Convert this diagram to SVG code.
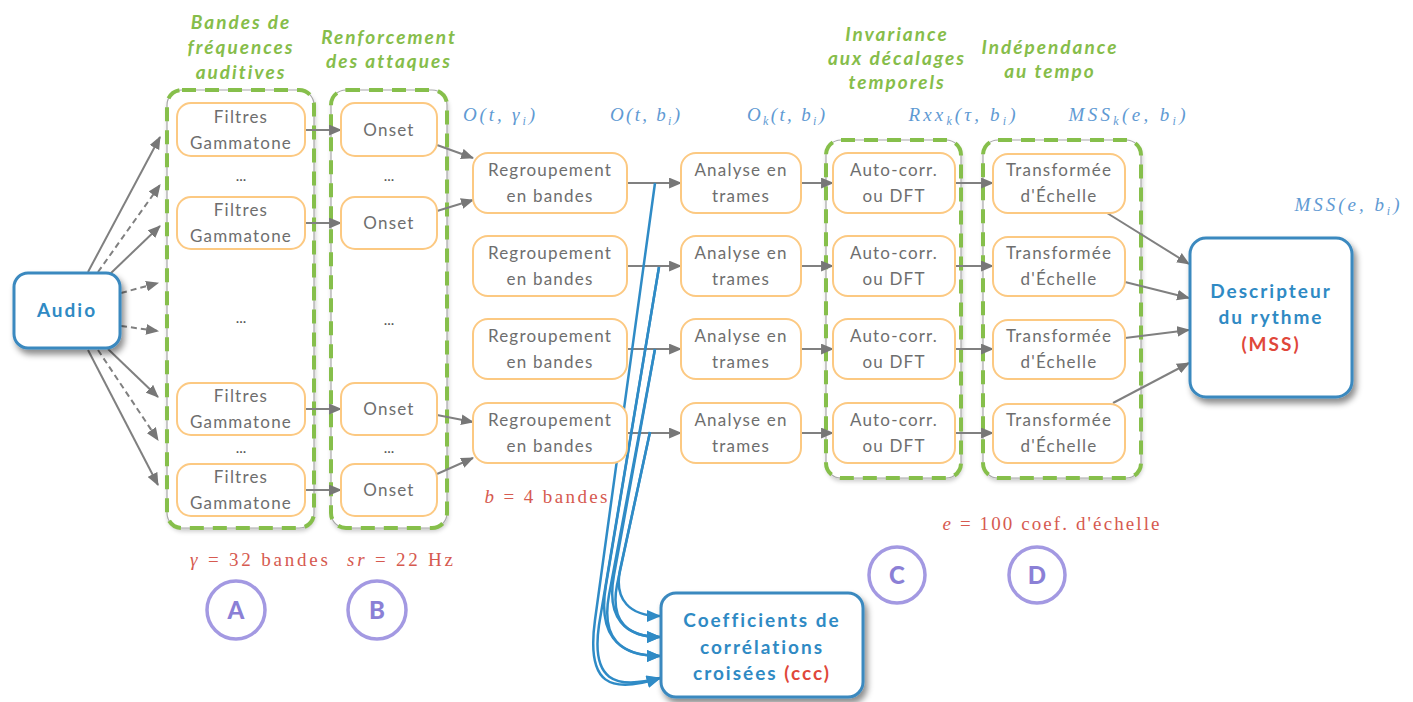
<svg xmlns="http://www.w3.org/2000/svg" width="1413" height="702" viewBox="0 0 1413 702">
<defs>
<style>
.box{fill:#fff;stroke:#fcc982;stroke-width:2}
.lbl{font-family:Lato,"Open Sans",sans-serif;font-size:17px;fill:#6e6e6e;text-anchor:middle;letter-spacing:1.2px}
.dots{font-family:Lato,sans-serif;font-size:15px;fill:#555;text-anchor:middle}
.gbg{fill:#fff;stroke:#a8a8a8;stroke-width:1.2;filter:url(#gs)}
.grp{fill:none;stroke:#86bf4b;stroke-width:4;stroke-dasharray:14 9}
.title{font-family:Lato,"Open Sans",sans-serif;font-weight:bold;font-style:italic;font-size:19px;fill:#86bd4a;text-anchor:middle;letter-spacing:2px}
.conn{stroke:#808080;stroke-width:2;fill:none;marker-end:url(#ag)}
.dash{stroke-dasharray:6 4}
.blue{stroke:#2f8bc6;stroke-width:2.5;fill:none;marker-end:url(#ab)}
.main{fill:#fff;stroke:#3b89bf;stroke-width:3;filter:url(#sh)}
.mtxt{font-family:Lato,"Open Sans",sans-serif;font-weight:bold;font-size:19px;fill:#2f8ac4;text-anchor:middle;letter-spacing:2px}
.redb{fill:#e0473a}
.math{font-family:"Liberation Serif",serif;font-style:italic;font-size:19px;fill:#5f9ad3;text-anchor:middle}
.red{font-family:"Liberation Serif",serif;font-size:19px;fill:#d65a50;text-anchor:middle}
.circ{fill:#fff;stroke:#a399e2;stroke-width:3.5}
.ctxt{font-family:Lato,"Open Sans",sans-serif;font-weight:900;font-size:24px;fill:#8b80d6;text-anchor:middle}
</style>
<filter id="sh" x="-20%" y="-20%" width="150%" height="150%">
<feDropShadow dx="3" dy="5" stdDeviation="3" flood-color="#000" flood-opacity="0.45"/>
</filter>
<filter id="gs" x="-10%" y="-10%" width="120%" height="120%">
<feDropShadow dx="1" dy="3" stdDeviation="2" flood-color="#000" flood-opacity="0.2"/>
</filter>
<marker id="ag" viewBox="0 0 12 10" refX="11" refY="5" markerWidth="13" markerHeight="11" markerUnits="userSpaceOnUse" orient="auto">
<path d="M0,0 L12,5 L0,10 z" fill="#777"/>
</marker>
<marker id="ab" viewBox="0 0 12 10" refX="11" refY="5" markerWidth="15" markerHeight="12" markerUnits="userSpaceOnUse" orient="auto">
<path d="M0,0 L12,5 L0,10 z" fill="#2f8bc6"/>
</marker>
</defs>
<rect width="1413" height="702" fill="#fff"/>

<!-- group frames -->
<g id="groupA"><rect class="gbg" x="167" y="90" width="147" height="438" rx="15"/><rect class="grp" x="167" y="90" width="147" height="438" rx="15"/></g>
<g id="groupB"><rect class="gbg" x="331" y="90" width="116" height="438" rx="15"/><rect class="grp" x="331" y="90" width="116" height="438" rx="15"/></g>
<g id="groupC"><rect class="gbg" x="826" y="140" width="135" height="338" rx="15"/><rect class="grp" x="826" y="140" width="135" height="338" rx="15"/></g>
<g id="groupD"><rect class="gbg" x="983" y="140" width="158" height="338" rx="15"/><rect class="grp" x="983" y="140" width="158" height="338" rx="15"/></g>

<!-- titles -->
<g id="titles">
<text class="title" x="241" y="29">Bandes de</text>
<text class="title" x="241" y="54">fréquences</text>
<text class="title" x="241" y="79">auditives</text>
<text class="title" x="389" y="44">Renforcement</text>
<text class="title" x="389" y="68">des attaques</text>
<text class="title" x="897" y="41">Invariance</text>
<text class="title" x="897" y="65">aux décalages</text>
<text class="title" x="897" y="89">temporels</text>
<text class="title" x="1050" y="54">Indépendance</text>
<text class="title" x="1050" y="78">au tempo</text>
</g>

<!-- connectors -->
<g id="connectors">
<path class="conn" d="M88,272 L160,137"/>
<path class="conn dash" d="M98,272 L160,185"/>
<path class="conn" d="M110,274 L160,226"/>
<path class="conn dash" d="M121,293 L158,283"/>
<path class="conn dash" d="M121,326 L158,331"/>
<path class="conn" d="M108,349 L158,397"/>
<path class="conn dash" d="M98,350 L158,440"/>
<path class="conn" d="M88,350 L158,485"/>

<path class="conn" d="M305,130 L341,130"/>
<path class="conn" d="M305,223 L341,223"/>
<path class="conn" d="M305,409 L341,409"/>
<path class="conn" d="M305,490 L341,490"/>

<path class="conn" d="M437,145 L473,158"/>
<path class="conn" d="M437,211 L473,200"/>
<path class="conn" d="M437,415 L473,422"/>
<path class="conn" d="M437,474 L473,458"/>

<path class="conn" d="M627,183 L681,183"/>
<path class="conn" d="M627,266 L681,266"/>
<path class="conn" d="M627,349 L681,349"/>
<path class="conn" d="M627,433 L681,433"/>

<path class="conn" d="M801,183 L833,183"/>
<path class="conn" d="M801,266 L833,266"/>
<path class="conn" d="M801,349 L833,349"/>
<path class="conn" d="M801,433 L833,433"/>

<path class="conn" d="M955,183 L993,183"/>
<path class="conn" d="M955,266 L993,266"/>
<path class="conn" d="M955,349 L993,349"/>
<path class="conn" d="M955,433 L993,433"/>

<path class="conn" d="M1107,213 L1189,264"/>
<path class="conn" d="M1125,282 L1189,298"/>
<path class="conn" d="M1125,338 L1189,330"/>
<path class="conn" d="M1113,403 L1189,363"/>

<path class="blue" d="M650,432 L620,570 C614,600 630,616 660,616"/>
<path class="blue" d="M655,349 L614,575 C606,618 625,637 660,637"/>
<path class="blue" d="M650,432 L617,585 C610,622 628,637 660,637"/>
<path class="blue" d="M659,267 L606,585 C598,632 615,656 660,656"/>
<path class="blue" d="M655,349 L609,595 C601,638 620,656 660,656"/>
<path class="blue" d="M655,183 L595,620 C586,685 610,694 660,678"/>
<path class="blue" d="M659,267 L599,625 C591,680 614,690 660,678"/>
</g>

<!-- Audio -->
<g id="audio"><rect class="main" x="14" y="273" width="106" height="75" rx="14"/><text class="mtxt" x="67" y="317">Audio</text></g>

<!-- Filtres -->
<g id="filtres1"><rect class="box" x="177" y="103" width="128" height="53" rx="14"/><text class="lbl" x="241" y="123">Filtres</text><text class="lbl" x="241" y="149">Gammatone</text></g>
<g id="filtres2"><rect class="box" x="177" y="197" width="128" height="52" rx="14"/><text class="lbl" x="241" y="216">Filtres</text><text class="lbl" x="241" y="242">Gammatone</text></g>
<g id="filtres3"><rect class="box" x="177" y="383" width="128" height="52" rx="14"/><text class="lbl" x="241" y="402">Filtres</text><text class="lbl" x="241" y="428">Gammatone</text></g>
<g id="filtres4"><rect class="box" x="177" y="464" width="128" height="52" rx="14"/><text class="lbl" x="241" y="483">Filtres</text><text class="lbl" x="241" y="509">Gammatone</text></g>

<!-- Onset -->
<g id="onset1"><rect class="box" x="341" y="103" width="96" height="53" rx="14"/><text class="lbl" x="389" y="136">Onset</text></g>
<g id="onset2"><rect class="box" x="341" y="197" width="96" height="52" rx="14"/><text class="lbl" x="389" y="229">Onset</text></g>
<g id="onset3"><rect class="box" x="341" y="383" width="96" height="52" rx="14"/><text class="lbl" x="389" y="415">Onset</text></g>
<g id="onset4"><rect class="box" x="341" y="464" width="96" height="52" rx="14"/><text class="lbl" x="389" y="496">Onset</text></g>

<g id="dots">
<text class="dots" x="241" y="181">...</text><text class="dots" x="389" y="181">...</text>
<text class="dots" x="241" y="323">...</text><text class="dots" x="389" y="325">...</text>
<text class="dots" x="241" y="453">...</text><text class="dots" x="389" y="453">...</text>
</g>

<!-- Regroupement -->
<g id="regr1"><rect class="box" x="473" y="153" width="154" height="60" rx="15"/><text class="lbl" x="550" y="176">Regroupement</text><text class="lbl" x="550" y="202">en bandes</text></g>
<g id="regr2"><rect class="box" x="473" y="236" width="154" height="60" rx="15"/><text class="lbl" x="550" y="259">Regroupement</text><text class="lbl" x="550" y="285">en bandes</text></g>
<g id="regr3"><rect class="box" x="473" y="319" width="154" height="60" rx="15"/><text class="lbl" x="550" y="342">Regroupement</text><text class="lbl" x="550" y="368">en bandes</text></g>
<g id="regr4"><rect class="box" x="473" y="403" width="154" height="60" rx="15"/><text class="lbl" x="550" y="426">Regroupement</text><text class="lbl" x="550" y="452">en bandes</text></g>

<!-- Analyse -->
<g id="analyse1"><rect class="box" x="681" y="153" width="120" height="60" rx="15"/><text class="lbl" x="741" y="176">Analyse en</text><text class="lbl" x="741" y="202">trames</text></g>
<g id="analyse2"><rect class="box" x="681" y="236" width="120" height="60" rx="15"/><text class="lbl" x="741" y="259">Analyse en</text><text class="lbl" x="741" y="285">trames</text></g>
<g id="analyse3"><rect class="box" x="681" y="319" width="120" height="60" rx="15"/><text class="lbl" x="741" y="342">Analyse en</text><text class="lbl" x="741" y="368">trames</text></g>
<g id="analyse4"><rect class="box" x="681" y="403" width="120" height="60" rx="15"/><text class="lbl" x="741" y="426">Analyse en</text><text class="lbl" x="741" y="452">trames</text></g>

<!-- Auto-corr -->
<g id="auto1"><rect class="box" x="833" y="153" width="122" height="60" rx="15"/><text class="lbl" x="894" y="176">Auto-corr.</text><text class="lbl" x="894" y="202">ou DFT</text></g>
<g id="auto2"><rect class="box" x="833" y="236" width="122" height="60" rx="15"/><text class="lbl" x="894" y="259">Auto-corr.</text><text class="lbl" x="894" y="285">ou DFT</text></g>
<g id="auto3"><rect class="box" x="833" y="319" width="122" height="60" rx="15"/><text class="lbl" x="894" y="342">Auto-corr.</text><text class="lbl" x="894" y="368">ou DFT</text></g>
<g id="auto4"><rect class="box" x="833" y="403" width="122" height="60" rx="15"/><text class="lbl" x="894" y="426">Auto-corr.</text><text class="lbl" x="894" y="452">ou DFT</text></g>

<!-- Transformée -->
<g id="trans1"><rect class="box" x="993" y="154" width="132" height="59" rx="15"/><text class="lbl" x="1059" y="176">Transformée</text><text class="lbl" x="1059" y="202">d'Échelle</text></g>
<g id="trans2"><rect class="box" x="993" y="237" width="132" height="59" rx="15"/><text class="lbl" x="1059" y="259">Transformée</text><text class="lbl" x="1059" y="285">d'Échelle</text></g>
<g id="trans3"><rect class="box" x="993" y="320" width="132" height="59" rx="15"/><text class="lbl" x="1059" y="342">Transformée</text><text class="lbl" x="1059" y="368">d'Échelle</text></g>
<g id="trans4"><rect class="box" x="993" y="404" width="132" height="59" rx="15"/><text class="lbl" x="1059" y="426">Transformée</text><text class="lbl" x="1059" y="452">d'Échelle</text></g>

<!-- Descripteur -->
<g id="descripteur"><rect class="main" x="1190" y="238" width="162" height="159" rx="16"/>
<text class="mtxt" x="1271" y="298">Descripteur</text>
<text class="mtxt" x="1271" y="324">du rythme</text>
<text class="mtxt redb" x="1271" y="351">(MSS)</text></g>

<!-- Coefficients -->
<g id="ccc"><rect class="main" x="661" y="593" width="202" height="104" rx="15"/>
<text class="mtxt" x="762" y="627">Coefficients de</text>
<text class="mtxt" x="762" y="654">corrélations</text>
<text class="mtxt" x="762" y="680">croisées <tspan class="redb">(ccc)</tspan></text></g>

<!-- math labels -->
<g id="mathlabels">
<text class="math" x="499" y="121" textLength="72">O(t, γ<tspan dy="4" font-size="12">i</tspan><tspan dy="-4">)</tspan></text>
<text class="math" x="645" y="121" textLength="70">O(t, b<tspan dy="4" font-size="12">i</tspan><tspan dy="-4">)</tspan></text>
<text class="math" x="786" y="121" textLength="78">O<tspan dy="4" font-size="12">k</tspan><tspan dy="-4">(t, b</tspan><tspan dy="4" font-size="12">i</tspan><tspan dy="-4">)</tspan></text>
<text class="math" x="962" y="121" textLength="107">Rxx<tspan dy="4" font-size="12">k</tspan><tspan dy="-4">(τ, b</tspan><tspan dy="4" font-size="12">i</tspan><tspan dy="-4">)</tspan></text>
<text class="math" x="1127" y="121" textLength="117">MSS<tspan dy="4" font-size="12">k</tspan><tspan dy="-4">(e, b</tspan><tspan dy="4" font-size="12">i</tspan><tspan dy="-4">)</tspan></text>
<text class="math" x="1347" y="211" textLength="105">MSS(e, b<tspan dy="4" font-size="12">i</tspan><tspan dy="-4">)</tspan></text>
</g>
<g id="redlabels">
<text class="red" x="259" y="566" textLength="138"><tspan font-style="italic">γ</tspan> = 32 bandes</text>
<text class="red" x="400" y="566" textLength="106"><tspan font-style="italic">sr</tspan> = 22 Hz</text>
<text class="red" x="546" y="503" textLength="123"><tspan font-style="italic">b</tspan> = 4 bandes</text>
<text class="red" x="1051" y="530" textLength="217"><tspan font-style="italic">e</tspan> = 100 coef. d'échelle</text>
</g>

<!-- circled letters -->
<g id="circleA"><circle class="circ" cx="236" cy="610" r="29"/><text class="ctxt" x="236" y="619">A</text></g>
<g id="circleB"><circle class="circ" cx="377" cy="610" r="29"/><text class="ctxt" x="377" y="619">B</text></g>
<g id="circleC"><circle class="circ" cx="897" cy="575" r="28"/><text class="ctxt" x="897" y="584">C</text></g>
<g id="circleD"><circle class="circ" cx="1037" cy="575" r="28"/><text class="ctxt" x="1037" y="584">D</text></g>
</svg>
